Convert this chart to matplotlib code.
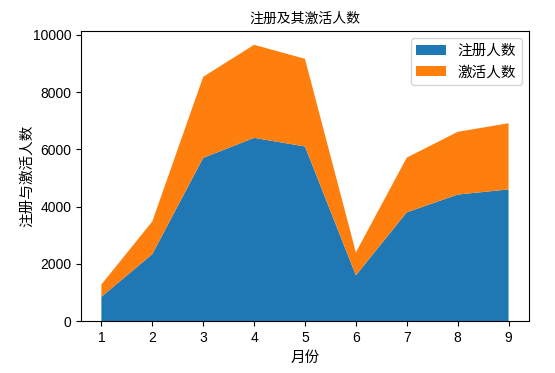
import numpy as np
import matplotlib.pyplot as plt

plt.rcParams['font.family'] = ['Liberation Sans', 'Noto Sans CJK SC', 'DejaVu Sans']
plt.rcParams['axes.unicode_minus'] = False

months = [1, 2, 3, 4, 5, 6, 7, 8, 9]
registered = [850, 2340, 5700, 6400, 6100, 1600, 3800, 4420, 4600]
activated = [430, 1140, 2830, 3250, 3060, 800, 1910, 2190, 2310]
labels = ['注册人数', '激活人数']

fig = plt.figure(figsize=(5.55, 3.73), dpi=100)
ax = fig.add_subplot(111)
fig.subplots_adjust(left=0.146, right=0.953, top=0.917, bottom=0.139)

ax.stackplot(months, registered, activated, labels=labels)
ax.set_title('注册及其激活人数', fontsize=10)
ax.set_xlabel('月份', fontsize=10.5)
ax.set_ylabel('注册与激活人数', fontsize=10.5, labelpad=-1)
ax.legend(loc='upper right', fontsize=10.5)

plt.savefig('out.png', dpi=100)
